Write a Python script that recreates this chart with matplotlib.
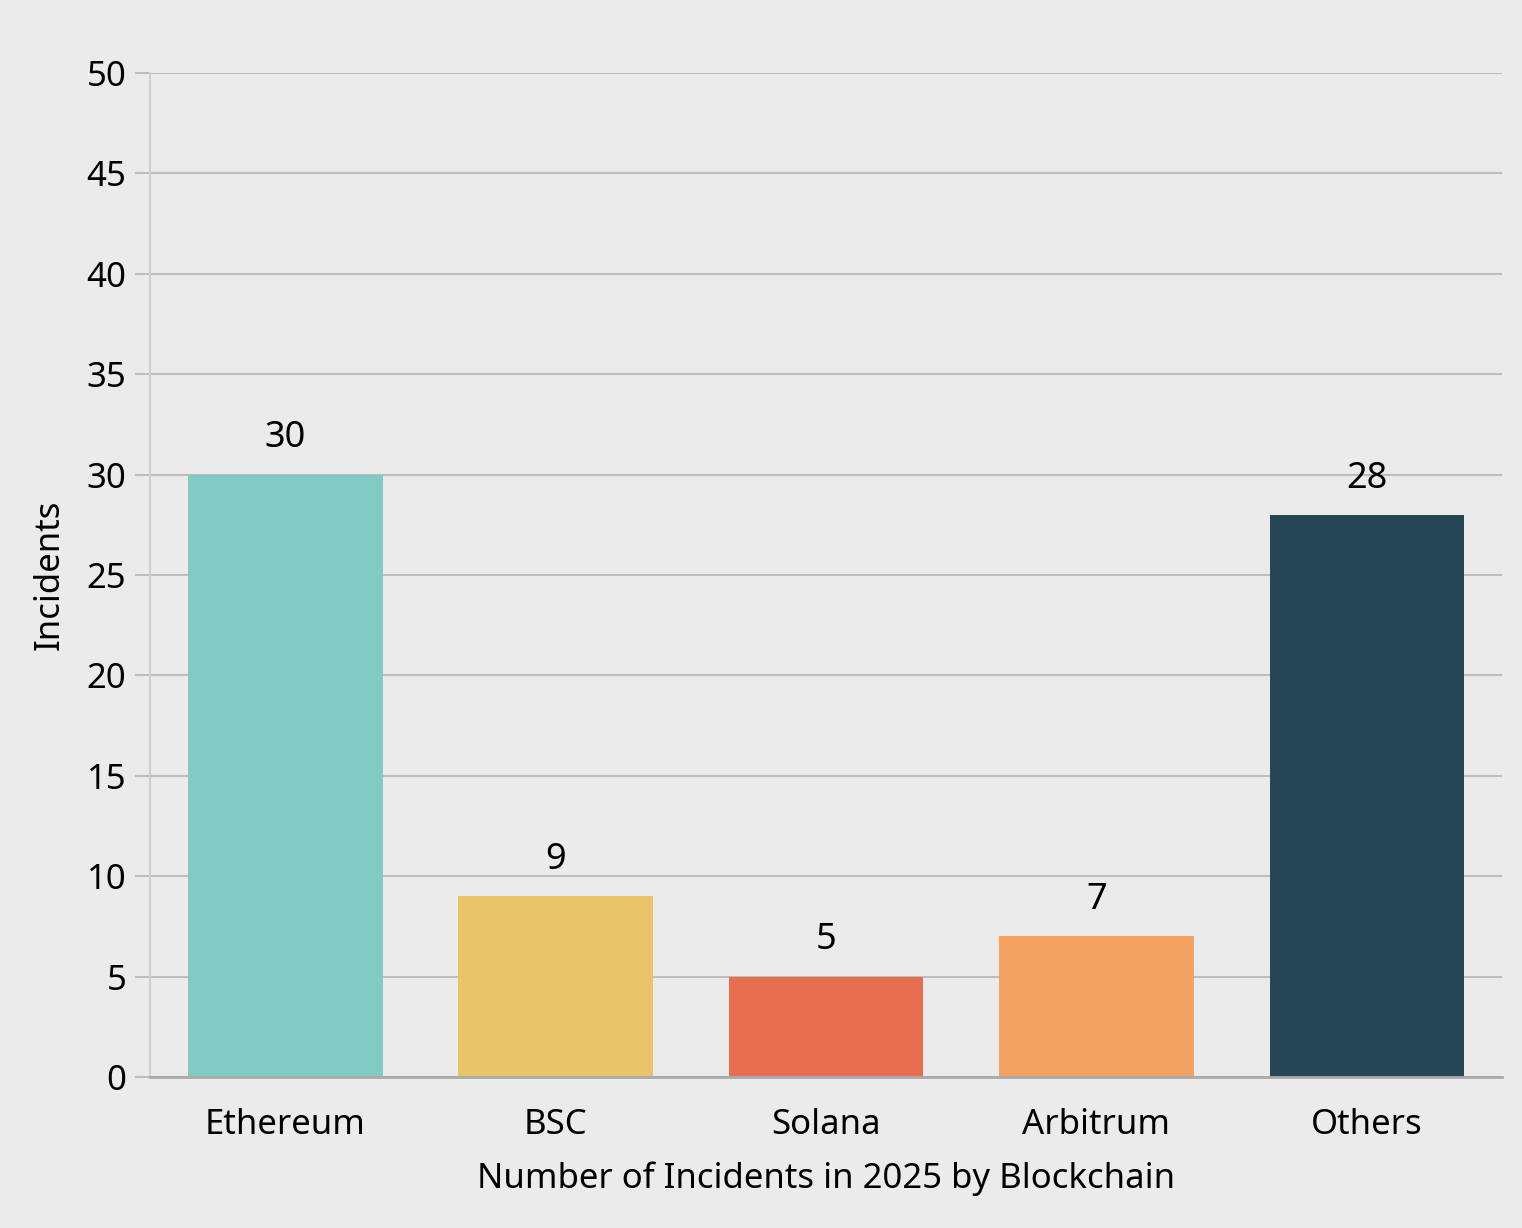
import matplotlib.pyplot as plt
import numpy as np

chains = ["Ethereum", "BSC", "Solana", "Arbitrum", "Others"]
incidents = [30, 9, 5, 7, 28]
colors = ["#82CBC4", "#E9C46A", "#E76F51", "#F4A261", "#264653"]
yticks = [0, 5, 10, 15, 20, 25, 30, 35, 40, 45, 50]

plt.rcParams['font.family'] = ['Noto Sans', 'DejaVu Sans']

bg = "#EBEBEB"
fig = plt.figure(figsize=(15.22, 12.28), dpi=100, facecolor=bg)
ax = fig.add_axes([0.0986, 0.1230, 0.8883, 0.8176], facecolor=bg)

x = np.arange(len(chains))
bars = ax.bar(x, incidents, width=0.72, color=colors, zorder=3)
ax.bar_label(bars, labels=[str(v) for v in incidents], padding=13, fontsize=26)

ax.set_xlim(-0.5, len(chains) - 0.5)
ax.set_ylim(0, 50)
ax.set_yticks(yticks)
ax.set_xticks(x)
ax.set_xticklabels(chains)

ax.grid(axis="y", color="#BDBDBD", linewidth=1.5, zorder=0)
ax.tick_params(axis="y", length=11, width=1.5, color="#BDBDBD", labelsize=25, pad=6)
ax.tick_params(axis="x", length=0, labelsize=25, pad=22)

for s in ["top", "right"]:
    ax.spines[s].set_visible(False)
ax.spines["left"].set_color("#CFCFCF")
ax.spines["left"].set_linewidth(1.5)
ax.spines["bottom"].set_color("#AAAAAA")
ax.spines["bottom"].set_linewidth(2)
ax.spines["bottom"].set_zorder(4)

ax.set_ylabel("Incidents", fontsize=25, labelpad=14)
ax.set_xlabel("Number of Incidents in 2025 by Blockchain", fontsize=25, labelpad=14)

fig.savefig("out.png", dpi=100, facecolor=bg)
